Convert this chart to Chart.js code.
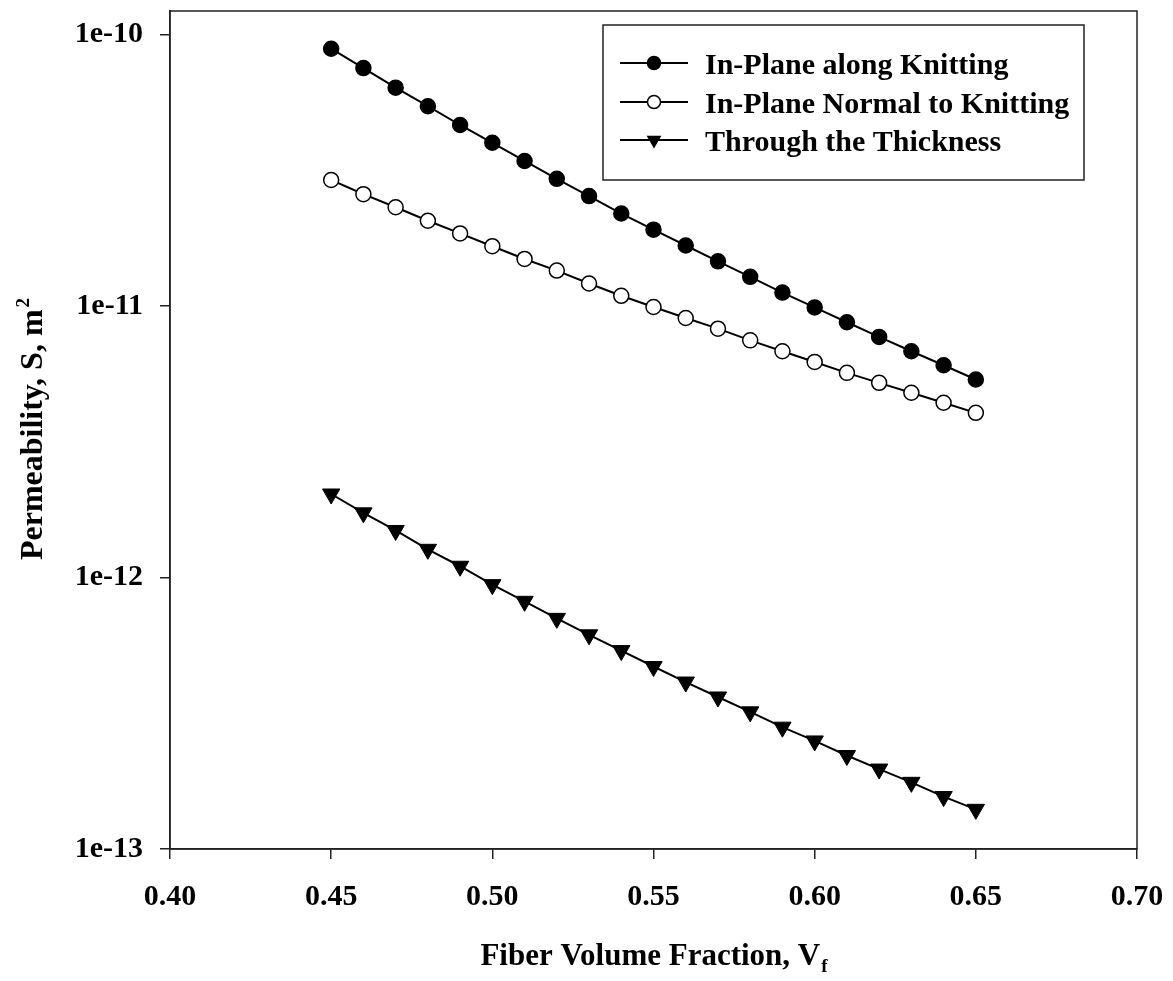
<!DOCTYPE html>
<html>
<head>
<meta charset="utf-8">
<script src="https://cdn.jsdelivr.net/npm/chart.js@4.4.0/dist/chart.umd.min.js"></script>
<style>
  html, body { margin:0; padding:0; background:#fff; }
  #wrap { width:1173px; height:981px; }
</style>
</head>
<body>
<div id="wrap"><canvas id="chart" width="1173" height="981"></canvas></div>
<script>
// Data
const fiberFraction = [0.45,0.46,0.47,0.48,0.49,0.50,0.51,0.52,0.53,0.54,0.55,0.56,0.57,0.58,0.59,0.60,0.61,0.62,0.63,0.64,0.65];
const alongKnitting = [8.86e-11,7.52e-11,6.37e-11,5.44e-11,4.64e-11,3.99e-11,3.42e-11,2.94e-11,2.54e-11,2.19e-11,1.91e-11,1.67e-11,1.46e-11,1.28e-11,1.12e-11,9.88e-12,8.71e-12,7.69e-12,6.81e-12,6.05e-12,5.36e-12];
const normalToKnitting = [2.91e-11,2.58e-11,2.31e-11,2.06e-11,1.85e-11,1.66e-11,1.49e-11,1.35e-11,1.21e-11,1.09e-11,9.91e-12,9.03e-12,8.25e-12,7.47e-12,6.81e-12,6.22e-12,5.67e-12,5.21e-12,4.79e-12,4.40e-12,4.04e-12];
const throughThickness = [2.03e-12,1.73e-12,1.49e-12,1.27e-12,1.10e-12,9.41e-13,8.17e-13,7.07e-13,6.15e-13,5.38e-13,4.70e-13,4.12e-13,3.63e-13,3.20e-13,2.81e-13,2.50e-13,2.21e-13,1.97e-13,1.76e-13,1.56e-13,1.40e-13];
const seriesNames = ['In-Plane along Knitting','In-Plane Normal to Knitting','Through the Thickness'];
const xTicks = [0.40,0.45,0.50,0.55,0.60,0.65,0.70];
const yTicks = [1e-13,1e-12,1e-11,1e-10];

const FONT = '"Liberation Serif", "Times New Roman", serif';
Chart.defaults.font.family = FONT;
Chart.defaults.font.weight = 'bold';
Chart.defaults.color = '#000';

function pts(ys) { return fiberFraction.map((x, i) => ({ x: x, y: ys[i] })); }

// marker shapes used by the legend
function marker(ctx, kind, x, y) {
  ctx.beginPath();
  if (kind === 'tri') {
    const r = 8.5;
    ctx.moveTo(x, y + r);
    ctx.lineTo(x - r * Math.sin(Math.PI / 3), y - r / 2);
    ctx.lineTo(x + r * Math.sin(Math.PI / 3), y - r / 2);
    ctx.closePath();
    ctx.fillStyle = '#000';
    ctx.fill();
  } else {
    ctx.arc(x, y, 6.5, 0, Math.PI * 2);
    ctx.fillStyle = kind === 'open' ? '#fff' : '#000';
    ctx.fill();
    ctx.lineWidth = 1.5;
    ctx.strokeStyle = '#000';
    ctx.stroke();
  }
}

const framePlugin = {
  id: 'frame',
  afterDraw(chart) {
    const { ctx, chartArea: a } = chart;
    ctx.save();
    ctx.strokeStyle = '#222';
    ctx.lineWidth = 1.5;
    ctx.strokeRect(a.left, a.top, a.right - a.left, a.bottom - a.top);

    // legend
    ctx.strokeRect(603, 25, 481, 155);
    const kinds = ['filled', 'open', 'tri'];
    const rowY = [63, 102, 140];
    kinds.forEach((k, i) => {
      ctx.beginPath();
      ctx.moveTo(620, rowY[i]);
      ctx.lineTo(688, rowY[i]);
      ctx.lineWidth = 2;
      ctx.strokeStyle = '#000';
      ctx.stroke();
      marker(ctx, k, 654, rowY[i]);
      ctx.fillStyle = '#000';
      ctx.font = 'bold 30px ' + FONT;
      ctx.textAlign = 'left';
      ctx.textBaseline = 'alphabetic';
      ctx.fillText(seriesNames[i], 705, rowY[i] + 11);
    });

    // axis titles
    ctx.fillStyle = '#000';
    ctx.textAlign = 'left';
    ctx.textBaseline = 'alphabetic';
    ctx.font = 'bold 31px ' + FONT;
    const xMain = 'Fiber Volume Fraction, V';
    const w1 = ctx.measureText(xMain).width;
    ctx.font = 'bold 19px ' + FONT;
    const w2 = ctx.measureText('f').width;
    const x0 = (a.left + a.right) / 2 - (w1 + w2) / 2;
    ctx.font = 'bold 31px ' + FONT;
    ctx.fillText(xMain, x0, 965);
    ctx.font = 'bold 19px ' + FONT;
    ctx.fillText('f', x0 + w1 + 1, 972);

    ctx.translate(42, (a.top + a.bottom) / 2);
    ctx.rotate(-Math.PI / 2);
    ctx.font = 'bold 32px ' + FONT;
    const yMain = 'Permeability, S, m';
    const v1 = ctx.measureText(yMain).width;
    ctx.font = 'bold 19px ' + FONT;
    const v2 = ctx.measureText('2').width;
    const y0 = -(v1 + v2) / 2;
    ctx.font = 'bold 32px ' + FONT;
    ctx.fillText(yMain, y0, 0);
    ctx.font = 'bold 19px ' + FONT;
    ctx.fillText('2', y0 + v1 + 2, -13);
    ctx.restore();
  }
};

new Chart(document.getElementById('chart'), {
  type: 'line',
  data: {
    datasets: [
      { label: seriesNames[0], data: pts(alongKnitting), borderColor: '#000', borderWidth: 2,
        pointStyle: 'circle', pointRadius: 7.5, pointBorderWidth: 1.5,
        pointBackgroundColor: '#000', pointBorderColor: '#000' },
      { label: seriesNames[1], data: pts(normalToKnitting), borderColor: '#000', borderWidth: 2,
        pointStyle: 'circle', pointRadius: 7.5, pointBorderWidth: 1.5,
        pointBackgroundColor: '#fff', pointBorderColor: '#000' },
      { label: seriesNames[2], data: pts(throughThickness), borderColor: '#000', borderWidth: 2,
        pointStyle: 'triangle', pointRotation: 180, pointRadius: 10, pointBorderWidth: 1,
        pointBackgroundColor: '#000', pointBorderColor: '#000' }
    ]
  },
  options: {
    responsive: false,
    animation: false,
    layout: { padding: { top: 9, right: 36, left: 0, bottom: 0 } },
    plugins: { legend: { display: false }, tooltip: { enabled: false } },
    scales: {
      x: {
        type: 'linear', min: 0.40, max: 0.70,
        afterBuildTicks: s => { s.ticks = xTicks.map(v => ({ value: v })); },
        afterFit: s => { s.height = 132; s.paddingLeft = 0; s.paddingRight = 0; },
        ticks: { callback: v => v.toFixed(2), font: { size: 30, weight: 'bold' }, color: '#000', padding: 20, maxRotation: 0 },
        grid: { drawOnChartArea: false, drawTicks: true, tickLength: 10, color: '#222', lineWidth: 1.5 },
        border: { color: '#222', width: 1.5 }
      },
      y: {
        type: 'logarithmic', min: 1e-13, max: 1.22e-10,
        afterBuildTicks: s => { s.ticks = yTicks.map(v => ({ value: v })); },
        afterFit: s => { s.width = 170; s.paddingTop = 0; s.paddingBottom = 0; },
        ticks: { callback: v => '1e' + Math.round(Math.log10(v)), font: { size: 30, weight: 'bold' }, color: '#000', padding: 17 },
        grid: { drawOnChartArea: false, drawTicks: true, tickLength: 10, color: '#222', lineWidth: 1.5 },
        border: { color: '#222', width: 1.5 }
      }
    }
  },
  plugins: [framePlugin]
});
</script>
</body>
</html>
